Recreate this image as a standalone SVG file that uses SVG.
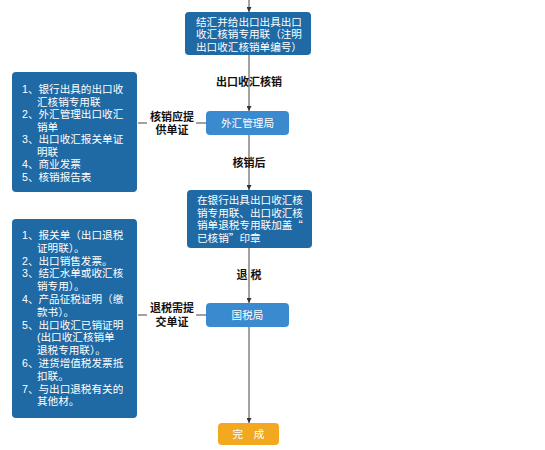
<svg xmlns="http://www.w3.org/2000/svg" width="545" height="450" viewBox="0 0 545 450">
<defs>
<marker id="ah" viewBox="0 0 10 10" refX="10" refY="5" markerWidth="5" markerHeight="5" orient="auto" markerUnits="userSpaceOnUse">
<path d="M0,0 L10,5 L0,10 z" fill="#333"/>
</marker>
<style>
text{font-family:"Liberation Sans","Noto Sans CJK SC",sans-serif;}
.cjk{font-family:"Noto Sans CJK SC",sans-serif;}
.dark{fill:#1f6aa5;}
.light{fill:#3a8ad0;}
.done{fill:#f2a81f;}
.bt{fill:#ffffff;font-size:10.6px;}
.ct{fill:#ffffff;font-size:10.6px;text-anchor:middle;}
.lbl{fill:#111;font-size:11px;font-weight:bold;text-anchor:middle;}
.ln{stroke:#444;stroke-width:1;fill:none;}
</style>
</defs>
<rect width="545" height="450" fill="#ffffff"/>
<g id="connectors">
<line class="ln" x1="249" y1="0" x2="249" y2="12" marker-end="url(#ah)"/>
<line class="ln" x1="249" y1="55" x2="249" y2="111" marker-end="url(#ah)"/>
<line class="ln" x1="249" y1="135" x2="249" y2="190" marker-end="url(#ah)"/>
<line class="ln" x1="249" y1="248" x2="249" y2="303" marker-end="url(#ah)"/>
<line class="ln" x1="249" y1="327" x2="249" y2="423" marker-end="url(#ah)"/>
<line class="ln" x1="138" y1="123" x2="147" y2="123"/>
<line class="ln" x1="196" y1="123" x2="206" y2="123"/>
<line class="ln" x1="138" y1="315" x2="147" y2="315"/>
<line class="ln" x1="196" y1="315" x2="206" y2="315"/>
<text class="lbl" x="249" y="86">出口收汇核销</text>
<text class="lbl" x="172" y="121">核销应提</text>
<text class="lbl" x="172" y="134">供单证</text>
<text class="lbl" x="249" y="167">核销后</text>
<text class="lbl" x="249" y="279">退 税</text>
<text class="lbl" x="172" y="312">退税需提</text>
<text class="lbl" x="172" y="326">交单证</text>
</g>
<g id="n-top">
<rect class="dark" x="185" y="12" width="126" height="43" rx="4"/>
<text class="ct" x="249" y="25.5">结汇并给出口出具出口</text>
<text class="ct" x="249" y="38">收汇核销专用联（注明</text>
<text class="ct" x="249" y="50.5">出口收汇核销单编号）</text>
</g>
<g id="n-safe">
<rect class="light" x="206" y="111" width="83" height="24" rx="4"/>
<text class="ct" x="247.5" y="127">外汇管理局</text>
</g>
<g id="n-docs1">
<rect class="dark" x="12" y="72" width="125" height="120" rx="4"/>
<text class="bt" x="22" y="93">1、银行出具的出口收</text>
<text class="bt" x="37" y="105.5">汇核销专用联</text>
<text class="bt" x="22" y="118">2、外汇管理出口收汇</text>
<text class="bt" x="37" y="130.5">销单</text>
<text class="bt" x="22" y="143">3、出口收汇报关单证</text>
<text class="bt" x="37" y="155.5">明联</text>
<text class="bt" x="22" y="168">4、商业发票</text>
<text class="bt" x="22" y="180.5">5、核销报告表</text>
</g>
<g id="n-verified">
<rect class="dark" x="187" y="190" width="125" height="58" rx="4"/>
<text class="bt" x="197" y="204">在银行出具出口收汇核</text>
<text class="bt" x="197" y="216.5">销专用联、出口收汇核</text>
<text class="bt" x="197" y="229">销单退税专用联加盖<tspan class="cjk">“</tspan></text>
<text class="bt" x="197" y="241.5">已核销<tspan class="cjk">”</tspan>印章</text>
</g>
<g id="n-docs2">
<rect class="dark" x="12" y="219" width="125" height="199" rx="4"/>
<text class="bt" x="22" y="239">1、报关单（出口退税</text>
<text class="bt" x="37" y="251.8">证明联）。</text>
<text class="bt" x="22" y="264.6">2、出口销售发票。</text>
<text class="bt" x="22" y="277.4">3、结汇水单或收汇核</text>
<text class="bt" x="37" y="290.2">销专用）。</text>
<text class="bt" x="22" y="303">4、产品征税证明（缴</text>
<text class="bt" x="37" y="315.8">款书）。</text>
<text class="bt" x="22" y="328.6">5、出口收汇已销证明</text>
<text class="bt" x="37" y="341.4">(出口收汇核销单</text>
<text class="bt" x="37" y="354.2">退税专用联）。</text>
<text class="bt" x="22" y="367">6、进货增值税发票抵</text>
<text class="bt" x="37" y="379.8">扣联。</text>
<text class="bt" x="22" y="392.6">7、与出口退税有关的</text>
<text class="bt" x="37" y="405.4">其他材。</text>
</g>
<g id="n-tax">
<rect class="light" x="206" y="303" width="83" height="24" rx="4"/>
<text class="ct" x="247.5" y="319">国税局</text>
</g>
<g id="n-done">
<rect class="done" x="218" y="423" width="61" height="22" rx="4"/>
<text class="ct" x="248.5" y="438" fill="#fff6e0">完　成</text>
</g>
</svg>
